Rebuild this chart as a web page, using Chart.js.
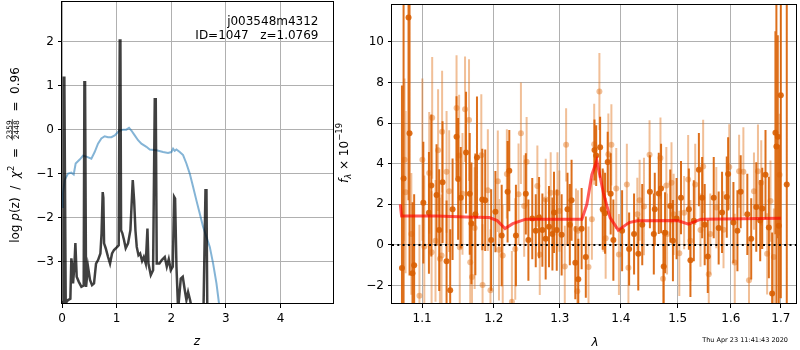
<!DOCTYPE html>
<html>
<head>
<meta charset="utf-8">
<script src="https://cdn.jsdelivr.net/npm/chart.js@4.4.1/dist/chart.umd.min.js"></script>
<style>
  html, body { margin: 0; padding: 0; background: #fff; }
  #wrap { position: relative; width: 800px; height: 350px; overflow: hidden; }
  #pz { position: absolute; left: 0; top: 0; }
  #spec { position: absolute; left: 335px; top: 0; }
</style>
</head>
<body>
<div id="wrap">
  <canvas id="pz" width="336" height="350"></canvas>
  <canvas id="spec" width="465" height="350"></canvas>
</div>
<script>
// ---- left panel: p(z) ----
const zPz = [0,0.02,0.031,0.043,0.068,0.11,0.153,0.171,0.19,0.202,0.226,0.245,0.269,0.306,0.355,0.397,0.41,0.422,0.44,0.476,
  0.513,0.55,0.586,0.623,0.66,0.703,0.724,0.745,0.757,0.77,0.80,0.843,0.879,0.916,0.952,1.002,1.038,1.057,1.069,1.081,
  1.105,1.136,1.166,1.209,1.252,1.295,1.32,1.344,1.368,1.4,1.43,1.466,1.497,1.533,1.564,1.582,1.625,1.667,1.698,1.716,
  1.734,1.783,1.826,1.881,1.918,1.954,1.991,2.028,2.052,2.07,2.095,2.125,2.174,2.21,2.247,2.277,2.308,2.344,2.381,2.43,
  2.583,2.626,2.644,2.662,2.75];
const logPz = [-3.95,-3.92,1.18,1.18,-3.95,-3.88,-3.85,-2.93,-3.12,-3.5,-3.12,-2.58,-3.35,-3.46,-3.58,-3.55,1.08,1.08,-3.58,-3.12,
  -3.42,-3.54,-3.5,-3.05,-2.97,-2.82,-2.36,-1.42,-1.55,-2.59,-2.7,-2.9,-3.05,-2.82,-2.74,-2.68,-2.63,2.03,2.03,-2.29,
  -2.36,-2.52,-2.7,-2.59,-2.29,-1.15,-1.61,-2.29,-2.67,-2.86,-2.82,-2.99,-2.9,-3.05,-2.25,-3.05,-3.31,-3.2,0.69,0.69,
  -3.05,-3.05,-2.97,-2.9,-3.12,-2.95,-3.2,-3.12,-1.53,-1.57,-3.12,-4.1,-3.39,-3.35,-3.65,-3.88,-3.7,-3.88,-4.1,-4.6,
  -4.6,-1.38,-1.38,-4.6,-5.0];
const zPrior = [0,0.018,0.049,0.11,0.171,0.214,0.25,0.324,0.385,0.458,0.537,0.598,0.659,0.72,0.781,0.842,0.904,0.965,1.044,1.117,
  1.178,1.227,1.27,1.331,1.392,1.453,1.545,1.606,1.728,1.85,1.941,2.002,2.033,2.063,2.094,2.155,2.216,2.277,2.338,2.399,
  2.46,2.521,2.582,2.643,2.705,2.766,2.827,2.875,2.95];
const logPrior = [-1.76,-1.45,-1.15,-1.0,-0.98,-1.02,-0.77,-0.68,-0.59,-0.62,-0.66,-0.51,-0.32,-0.2,-0.15,-0.17,-0.17,-0.13,-0.03,0.0,
  0.0,0.04,-0.02,-0.13,-0.24,-0.32,-0.39,-0.45,-0.47,-0.51,-0.53,-0.51,-0.43,-0.48,-0.45,-0.51,-0.58,-0.77,-1.0,-1.3,
  -1.61,-1.91,-2.21,-2.44,-2.67,-3.05,-3.5,-3.97,-4.64];
const zTicks = [0, 1, 2, 3, 4];
const logPTicks = [-3, -2, -1, 0, 1, 2];

// ---- right panel: spectrum (two sets of points with 1-sigma bars) ----
const lamDark = [
  1.0735,1.0756,1.0821,1.0834,1.0873,1.0895,1.1017,1.1092,1.1124,1.1195,
  1.1231,1.1277,1.1332,1.1382,1.1415,1.1470,1.1492,1.1529,1.1603,1.1655,
  1.1679,1.1735,1.1758,1.1834,1.1876,1.1962,1.2024,1.2116,1.2203,1.2228,
  1.2327,1.2476,1.2515,1.2574,1.2627,1.2678,1.2729,1.2780,1.2832,1.2885,
  1.2910,1.2953,1.3030,1.3123,1.3160,1.3188,1.3248,1.3296,1.3350,1.3418,
  1.3560,1.3588,1.3653,1.3696,1.3735,1.3779,1.3829,1.3874,1.4022,1.4142,
  1.4227,1.4300,1.4369,1.4503,1.4572,1.4589,1.4660,1.4701,1.4748,1.4772,
  1.4866,1.4914,1.4980,1.5061,1.5205,1.5234,1.5297,1.5391,1.5452,1.5500,
  1.5558,1.5671,1.5765,1.5830,1.5921,1.5947,1.6050,1.6128,1.6192,1.6323,
  1.6400,1.6501,1.6580,1.6621,1.6687,1.6755,1.6822,1.6889,1.6909,1.6937,
  1.6958,1.7000,1.7123];
const fluxDark = [
  -1.14,3.27,11.2,5.5,-1.4,-1.0,2.08,1.58,2.93,2.46,
  0.73,3.09,-0.81,-2.23,1.76,5.33,3.25,2.33,4.55,2.52,
  1.06,1.51,4.31,2.24,2.2,0.24,1.64,0.46,2.62,3.66,
  0.46,2.52,0.24,1.3,0.7,1.35,0.73,0.3,0.9,0.54,
  1.6,0.73,0.5,1.76,1.0,2.2,-0.88,-1.69,0.8,-0.6,
  4.68,4.4,4.81,1.76,1.56,4.08,2.52,0.24,0.7,-0.2,
  0.54,-0.44,1.0,2.62,0.54,1.76,2.54,2.78,-1.06,0.6,
  1.92,0.21,1.3,2.33,1.76,-0.76,1.19,3.71,2.33,1.0,
  -0.57,2.33,0.83,1.6,2.36,3.5,1.1,0.7,2.62,1.51,
  0.3,1.87,1.2,1.8,3.46,0.86,-2.39,5.53,4.85,5.33,
  0.94,7.37,2.98];
const errDark = [
  9,9,9,7,3.5,3.5,3,3,3.5,2.5,
  3,3,3,3,2.5,2,3,2.5,3,3,
  3,3,3,2.5,2.5,2.5,2,2.5,2.5,2,
  2.5,2,2,2,1.8,2,1.8,2,2,1.8,
  2,2,2,1.8,2,2,1.8,2,2,2,
  1.5,1.5,1.5,2,2,1.5,2,2,2,1.8,
  2,1.8,2,1.8,2,1.8,2,2.2,1.8,2,
  1.8,2,2,1.8,2,1.8,2,1.8,2,2,
  1.8,2,1.8,2,2,1.8,2,2,1.8,2,
  2,2.2,2,2,2.2,2.5,3,5,9,5,
  4,10,12];
const lamLight = [
  1.0769,1.0782,1.0858,1.0965,1.1004,1.1030,1.1096,1.1128,1.1136,1.1181,
  1.1216,1.1241,1.1263,1.1271,1.1332,1.1368,1.1470,1.1506,1.1515,1.1553,
  1.1589,1.1645,1.1662,1.1687,1.1725,1.1820,1.1838,1.1914,1.1952,1.2059,
  1.2076,1.2131,1.2192,1.2267,1.2317,1.2366,1.2402,1.2451,1.2488,1.2652,
  1.2689,1.2781,1.2858,1.2964,1.2995,1.3080,1.3101,1.3259,1.3280,1.3290,
  1.3462,1.3517,1.3555,1.3641,1.3707,1.3745,1.3790,1.3841,1.3923,1.3968,
  1.4103,1.4130,1.4283,1.4323,1.4399,1.4497,1.4690,1.4737,1.4795,1.4808,
  1.4888,1.4927,1.5030,1.5118,1.5192,1.5234,1.5323,1.5421,1.5471,1.5577,
  1.5606,1.5720,1.5858,1.5969,1.6076,1.6161,1.6245,1.6356,1.6455,1.6535,
  1.6601,1.6720,1.6788,1.6857,1.6975];
const fluxLight = [
  4.2,2.6,0.54,-2.5,4.2,-0.08,3.55,-0.36,6.26,0.2,
  4.67,-0.68,-0.52,5.58,3.6,2.65,6.75,4.4,-0.11,2.52,
  6.68,6.15,-0.85,-1.58,0.83,4.42,-1.98,2.7,-2.23,3.14,
  -0.24,-0.52,3.5,-2.8,-0.2,2.5,5.5,1.92,4.1,2.9,
  -0.47,2.24,2.57,2.57,1.67,-1.06,4.93,0.78,-2.28,0.7,
  -1.09,1.27,4.96,7.56,1.67,0.33,4.47,4.93,2.78,-0.47,
  2.98,-1.12,1.51,2.2,1.89,4.44,4.28,-1.66,2.93,0.54,
  3.06,1.51,-0.41,1.59,3.22,0.21,2.98,0.73,3.87,-1.45,
  0.54,1.84,0.75,3.84,-0.86,3.63,3.6,-1.74,2.65,3.63,
  3.06,-0.44,2.16,-0.6,3.46];
const errLight = [
  4,4,3,3.5,4,3.5,3,3,3,3,
  3,3,3,3,3,3,2.6,3,3,3,
  2.6,3,3,3,3,3,3,3,3,2.5,
  2.5,2.5,2.2,2.5,2.5,2.5,2.5,2.5,2.2,2,
  2,2,2,2,2,2,1.8,2,2,2,
  2,2,2,1.9,2,2,2,2,2,2,
  2,2.2,1.8,2,2.4,1.7,2,2.3,1.9,2,
  2,2,2.1,1.8,2.2,2,2,1.8,2.3,2,
  2,2,1.9,2.1,2.4,1.8,2.2,2,1.9,2.3,
  2.1,2,2,2.4,3];
const modelLam = [1.0713,1.073,1.12,1.16,1.1937,1.205,1.2165,1.228,1.2476,1.3355,1.3435,1.3517,1.3598,1.3707,1.3819,1.3956,
  1.4142,1.4283,1.5,1.5197,1.543,1.70];
const modelFlux = [2.0,1.43,1.42,1.38,1.35,1.2,0.81,1.05,1.27,1.27,2.0,3.46,4.15,2.57,1.35,0.73,
  1.1,1.19,1.2,1.02,1.27,1.32];
const lamTicks = [1.1, 1.2, 1.3, 1.4, 1.5, 1.6, 1.7];
const fluxTicks = [-2, 0, 2, 4, 6, 8, 10];

const FONT = "'DejaVu Sans'";
Chart.defaults.font.family = FONT;
Chart.defaults.font.size = 12;
Chart.defaults.color = "#000";

function pairs(xs, ys) {
    return xs.map((x, i) => ({ x: x, y: ys[i] }));
}

// vertical error bars as one broken line: low, high, gap
function errSegments(xs, ys, es) {
    const out = [];
    xs.forEach((x, i) => {
        out.push({ x: x, y: ys[i] - es[i] });
        out.push({ x: x, y: ys[i] + es[i] });
        out.push({ x: x, y: null });
    });
    return out;
}

function fmtTick(v) {
    return String(Math.round(v * 10) / 10).replace("-", "\u2212");
}

function axis(min, max, tickList, type, size) {
    return {
        type: type || "linear",
        min: min,
        max: max,
        afterBuildTicks: function (s) {
            s.ticks = tickList.map((v) => ({ value: v }));
        },
        afterFit: function (s) {
            if (s.isHorizontal()) {
                s.height = size;
                s.paddingLeft = 0;
                s.paddingRight = 0;
            } else {
                s.width = size;
                s.paddingTop = 0;
                s.paddingBottom = 0;
            }
        },
        grid: { color: "#b0b0b0", lineWidth: 1, tickColor: "#000", tickLength: 4 },
        border: { display: false },
        ticks: { padding: 4, maxRotation: 0, autoSkip: false, callback: fmtTick },
    };
}

// frame around the axes, matplotlib style
const framePlugin = {
    id: "frame",
    afterDraw(chart) {
        const a = chart.chartArea;
        const ctx = chart.ctx;
        ctx.save();
        ctx.strokeStyle = "#000";
        ctx.lineWidth = 1;
        ctx.strokeRect(Math.round(a.left) - 0.5, Math.round(a.top) + 0.5,
            Math.round(a.right - a.left) + 1, Math.round(a.bottom - a.top) - 1);
        ctx.restore();
    },
};

function drawRuns(ctx, runs, cx, y) {
    let w = 0;
    runs.forEach((r) => {
        ctx.font = r.f;
        r.w = r.frac ? Math.max(ctx.measureText(r.num).width, ctx.measureText(r.den).width) + 2
                     : ctx.measureText(r.t).width;
        w += r.w;
    });
    let x = cx - w / 2;
    ctx.textBaseline = "alphabetic";
    runs.forEach((r) => {
        ctx.font = r.f;
        if (r.frac) {
            ctx.textAlign = "center";
            ctx.fillText(r.num, x + r.w / 2, y - 7);
            ctx.fillText(r.den, x + r.w / 2, y);
            ctx.fillRect(x, y - 6.6, r.w, 0.7);
            ctx.textAlign = "left";
        } else {
            ctx.textAlign = "left";
            ctx.fillText(r.t, x, y + (r.dy || 0));
        }
        x += r.w;
    });
}

const N = "12px " + FONT;
const I = "italic 12px " + FONT;
const S = "8.5px " + FONT;
const SI = "italic 8.5px " + FONT;
const F = "7.5px " + FONT;

const pzLabels = {
    id: "pzLabels",
    afterDraw(chart) {
        const ctx = chart.ctx;
        ctx.save();
        ctx.fillStyle = "#000";
        ctx.font = N;
        ctx.textAlign = "right";
        ctx.fillText("j003548m4312", 318.5, 25);
        ctx.fillText("ID=1047   z=1.0769", 318.5, 38.5);
        ctx.textAlign = "center";
        ctx.font = I;
        ctx.fillText("z", 197, 345);
        ctx.translate(18.5, 155);
        ctx.rotate(-Math.PI / 2);
        drawRuns(ctx, [
            { t: "log ", f: N },
            { t: "p", f: I },
            { t: "(z)  /  ", f: N },
            { t: "\u03c7", f: I },
            { t: "2", f: S, dy: -5 },
            { t: "  =  ", f: N },
            { frac: true, num: "2359", den: "2448", f: F },
            { t: "  =  0.96", f: N },
        ], 0, 0);
        ctx.restore();
    },
};

const specLabels = {
    id: "specLabels",
    afterDatasetsDraw(chart) {
        // dotted zero line
        const ctx = chart.ctx;
        const a = chart.chartArea;
        const y0 = chart.scales.y.getPixelForValue(0);
        ctx.save();
        ctx.strokeStyle = "#000";
        ctx.lineWidth = 2;
        ctx.setLineDash([2, 3.3]);
        ctx.beginPath();
        ctx.moveTo(a.left, y0);
        ctx.lineTo(a.right, y0);
        ctx.stroke();
        ctx.restore();
    },
    afterDraw(chart) {
        const ctx = chart.ctx;
        ctx.save();
        ctx.fillStyle = "#000";
        ctx.textAlign = "center";
        ctx.font = I;
        ctx.fillText("\u03bb", 260, 346);
        ctx.font = "6.5px " + FONT;
        ctx.textAlign = "right";
        ctx.fillText("Thu Apr 23 11:41:43 2020", 453, 342);
        ctx.translate(13, 153);
        ctx.rotate(-Math.PI / 2);
        drawRuns(ctx, [
            { t: "f", f: I },
            { t: "\u03bb", f: SI, dy: 3 },
            { t: " \u00d7 10", f: N },
            { t: "\u221219", f: S, dy: -6 },
        ], 0, 0);
        ctx.restore();
    },
};

new Chart(document.getElementById("pz"), {
    type: "scatter",
    data: {
        datasets: [
            {
                data: pairs(zPz, logPz),
                showLine: true,
                borderColor: "rgba(0,0,0,0.75)",
                borderWidth: 2.5,
                pointRadius: 0,
            },
            {
                data: pairs(zPrior, logPrior),
                showLine: true,
                borderColor: "rgba(31,119,180,0.55)",
                borderWidth: 2,
                pointRadius: 0,
            },
        ],
    },
    options: {
        responsive: false,
        animation: false,
        layout: { padding: { top: 1, right: 3, left: 0, bottom: 0 } },
        plugins: { legend: { display: false }, tooltip: { enabled: false } },
        scales: {
            x: axis(0, 4.96, zTicks, "linear", 46),
            y: axis(-3.97, 2.93, logPTicks, "linear", 62),
        },
    },
    plugins: [framePlugin, pzLabels],
});

const dark = "rgba(217,95,2,0.9)";
const light = "rgba(224,112,25,0.45)";

new Chart(document.getElementById("spec"), {
    type: "scatter",
    data: {
        datasets: [
            {
                data: pairs(modelLam, modelFlux),
                showLine: true,
                borderColor: "rgba(255,0,0,0.65)",
                borderWidth: 3,
                pointRadius: 0,
            },
            {
                data: pairs(lamDark, fluxDark),
                pointRadius: 3,
                pointBackgroundColor: dark,
                pointBorderWidth: 0,
            },
            {
                data: errSegments(lamDark, fluxDark, errDark),
                showLine: true,
                spanGaps: false,
                borderColor: dark,
                borderWidth: 2,
                pointRadius: 0,
            },
            {
                data: pairs(lamLight, fluxLight),
                pointRadius: 3,
                pointBackgroundColor: light,
                pointBorderWidth: 0,
            },
            {
                data: errSegments(lamLight, fluxLight, errLight),
                showLine: true,
                spanGaps: false,
                borderColor: light,
                borderWidth: 2,
                pointRadius: 0,
            },
        ],
    },
    options: {
        responsive: false,
        animation: false,
        layout: { padding: { top: 1, right: 1, left: 0, bottom: 0 } },
        plugins: { legend: { display: false }, tooltip: { enabled: false } },
        scales: {
            x: axis(1.0606, 1.7316, lamTicks, "logarithmic", 46),
            y: axis(-2.91, 11.87, fluxTicks, "linear", 57),
        },
    },
    plugins: [framePlugin, specLabels],
});
</script>
</body>
</html>
